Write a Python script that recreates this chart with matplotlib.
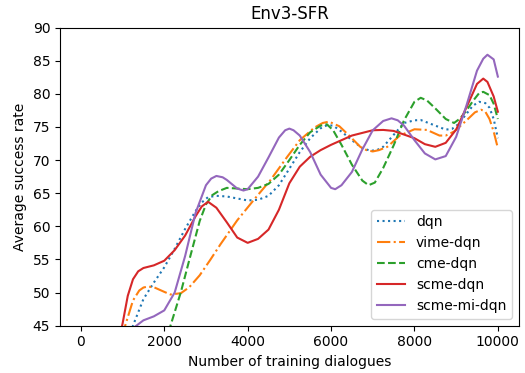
import matplotlib
matplotlib.use("Agg")
import matplotlib.pyplot as plt


# values
dqn_x = [1000, 1250, 1500, 1750, 2000, 2250, 2500, 2750, 2900, 3050, 3250,
         3500, 3750, 4000, 4250, 4500, 4750, 5000, 5250, 5500, 5750, 5900,
         6050, 6250, 6500, 6750, 6950, 7100, 7250, 7500, 7750, 8000, 8150,
         8500, 8750, 8900, 9050, 9250, 9400, 9550, 9700, 9800, 9900, 10000]
dqn_y = [40.0, 45.0, 49.0, 51.5, 53.8, 56.6, 59.6, 62.3, 63.6, 64.4, 64.6,
         64.5, 64.2, 63.9, 64.0, 64.6, 66.2, 68.7, 71.2, 73.3, 74.8, 75.25,
         75.2, 74.3, 73.0, 71.8, 71.4, 71.5, 72.0, 73.8, 75.6, 76.0, 76.05,
         75.2, 74.6, 74.7, 75.4, 77.0, 78.2, 78.8, 78.6, 77.9, 76.2, 73.3]

vime_x = [900, 1063, 1250, 1400, 1500, 1600, 1750, 2000, 2150, 2400, 2600,
          2850, 3100, 3350, 3750, 4150, 4550, 4950, 5250, 5600, 5800, 5950,
          6200, 6450, 6700, 6850, 7000, 7150, 7350, 7650, 8000, 8300, 8600,
          8750, 8950, 9250, 9450, 9600, 9700, 9800, 9900, 10000]
vime_y = [40.0, 45.0, 48.8, 50.3, 50.75, 50.9, 50.8, 50.1, 49.7, 49.9, 50.8,
          52.6, 54.9, 57.3, 60.9, 64.0, 67.0, 70.5, 73.0, 74.9, 75.6, 75.8,
          75.1, 73.6, 72.0, 71.5, 71.3, 71.5, 72.0, 73.7, 74.65, 74.55, 73.7,
          73.7, 74.3, 76.0, 77.2, 77.6, 77.3, 76.2, 74.3, 71.8]

cme_x = [2000, 2150, 2400, 2600, 2850, 3000, 3150, 3300, 3500, 3750, 4000,
         4250, 4500, 4750, 5000, 5250, 5500, 5750, 5900, 6050, 6250, 6500,
         6750, 6900, 7050, 7250, 7500, 7750, 8000, 8150, 8300, 8500, 8750,
         8950, 9100, 9250, 9400, 9550, 9650, 9800, 9900, 10000]
cme_y = [42.5, 45.0, 50.1, 54.9, 60.8, 63.3, 64.7, 65.3, 65.8, 65.7, 65.6,
         65.8, 66.4, 67.8, 70.0, 72.3, 74.2, 75.2, 75.4, 74.5, 72.3, 69.3,
         66.9, 66.2, 66.6, 68.8, 72.2, 76.0, 78.8, 79.4, 79.0, 77.8, 76.2,
         75.6, 76.3, 77.5, 78.9, 80.1, 80.3, 79.8, 78.5, 76.2]

scme_x = [750, 1000, 1125, 1250, 1375, 1500, 1750, 2000, 2250, 2500, 2750,
          2900, 3050, 3250, 3500, 3750, 4000, 4250, 4500, 4750, 5000, 5250,
          5500, 5750, 6000, 6500, 7000, 7250, 7500, 8000, 8250, 8500, 8750,
          9000, 9250, 9500, 9650, 9750, 9900, 10000]
scme_y = [38.0, 45.3, 49.5, 52.0, 53.2, 53.7, 54.1, 54.8, 56.4, 58.6, 61.5,
          63.0, 63.7, 62.8, 60.6, 58.3, 57.5, 58.1, 59.5, 62.5, 66.5, 69.0,
          70.5, 71.5, 72.3, 73.7, 74.5, 74.55, 74.4, 73.3, 72.4, 72.0, 72.6,
          74.6, 78.0, 81.5, 82.3, 81.8, 79.6, 77.3]

scme_mi_x = [1000, 1250, 1500, 1750, 2000, 2250, 2500, 2750, 3000, 3125,
             3250, 3400, 3500, 3750, 3900, 4000, 4250, 4500, 4750, 4900,
             5000, 5100, 5250, 5500, 5750, 6000, 6100, 6250, 6500, 6750,
             7000, 7250, 7450, 7600, 7750, 8000, 8250, 8500, 8750, 9000,
             9250, 9500, 9650, 9750, 9900, 10000]
scme_mi_y = [40.0, 44.6, 45.8, 46.4, 47.3, 50.0, 55.5, 62.0, 66.2, 67.2,
             67.6, 67.4, 67.0, 65.7, 65.4, 65.6, 67.5, 70.4, 73.4, 74.5,
             74.75, 74.5, 73.7, 71.2, 67.8, 65.8, 65.6, 66.2, 68.2, 71.6,
             74.5, 75.9, 76.3, 76.0, 75.2, 73.0, 71.0, 70.1, 70.6, 73.5,
             78.3, 83.5, 85.3, 85.9, 85.2, 82.6]


fig = plt.figure(figsize=(5.25, 3.73), dpi=100)
ax = fig.add_subplot(111)
fig.subplots_adjust(left=0.1143, right=0.988, bottom=0.127, top=0.926)

ax.plot(dqn_x, dqn_y, linestyle=":", color="C0", label="dqn")
ax.plot(vime_x, vime_y, linestyle="-.", color="C1", label="vime-dqn")
ax.plot(cme_x, cme_y, linestyle="--", color="C2", label="cme-dqn")
ax.plot(scme_x, scme_y, linestyle="-", color="C3", label="scme-dqn")
ax.plot(scme_mi_x, scme_mi_y, linestyle="-", color="C4", label="scme-mi-dqn")

ax.set_xlim(-500, 10500)
ax.set_ylim(45, 90)
ax.set_xticks([0, 2000, 4000, 6000, 8000, 10000])
ax.set_xlabel("Number of training dialogues")
ax.set_ylabel("Average success rate")
ax.set_title("Env3-SFR")
ax.legend(loc="lower right")

fig.savefig("out.png", dpi=100)
